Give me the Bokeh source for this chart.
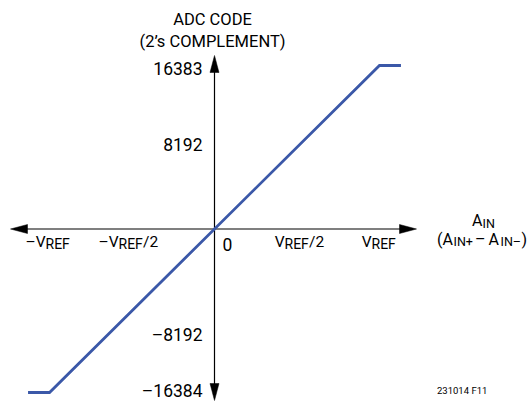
from bokeh.plotting import figure
from bokeh.models import Range1d
from bokeh.core.properties import value
from bokeh.embed import file_html
from bokeh.resources import INLINE

# ---- data ----
line_x = [-1.13, -1.0, 1.0, 1.13]          # input, in units of VREF
line_y = [-16384, -16384, 16383, 16383]    # ADC code
x_ticks = [-1.0, -0.5, 0.5, 1.0]
x_tick_prefix = ["–V", "–V", "V", "V"]
x_tick_sub = ["REF", "REF", "REF", "REF"]
x_tick_suffix = ["", "/2", "/2", ""]
y_ticks = [16383, 8192, -8192, -16384]
y_tick_labels = ["16383", "8192", "–8192", "–16384"]
zero_label = "0"
title_lines = ["ADC CODE", "(2’s COMPLEMENT)"]
note = "231014 F11"

# ---- layout (page pixels) ----
W, H = 530, 402
OFF = 0                    # page offset of the figure
X0, SX = 214.0, 165.0      # page x of 0, px per VREF
Y0, SY = 228.5, 163.5      # page y of 0, px per 16384 codes
K = 0.33                   # baseline correction, in em

def dx(px):
    return px / SX

def dy(px):
    return px / SY * 16384

def px_x(page_x):
    return (page_x - X0) / SX

def px_y(page_y):
    return (Y0 - page_y) / SY * 16384

def base_y(page_y, size):
    return px_y(page_y - K * size)

p = figure(width=W, height=H, output_backend="svg", toolbar_location=None,
           x_range=Range1d(px_x(OFF), px_x(OFF + W)),
           y_range=Range1d(px_y(OFF + H), px_y(OFF)),
           min_border=0, x_axis_location=None, y_axis_location=None,
           title=None)
p.grid.visible = False
p.outline_line_color = None
p.background_fill_color = "white"
p.border_fill_color = "white"

FONT = value("Roboto")

# axes
p.segment(x0=[px_x(20), 0], y0=[0, px_y(70)], x1=[px_x(405), 0], y1=[0, px_y(388)],
          line_color="black", line_width=1.2)
L, HW = 17, 4.5
heads_x = [
    [px_x(10), px_x(10 + L), px_x(10 + L)],
    [px_x(416), px_x(416 - L), px_x(416 - L)],
    [0, dx(-HW), dx(HW)],
    [0, dx(-HW), dx(HW)],
]
heads_y = [
    [0, dy(HW), dy(-HW)],
    [0, dy(HW), dy(-HW)],
    [px_y(55), px_y(55 + L), px_y(55 + L)],
    [px_y(400), px_y(400 - L), px_y(400 - L)],
]
p.patches(xs=heads_x, ys=heads_y, fill_color="black", line_color="black", line_width=0.5)

# transfer function
p.line(line_x, line_y, line_color="#3b58a8", line_width=2.8, line_join="miter")

# y tick labels
NUM = 17.5
y_label_base = [73.5, 149.3, 340.0, 396.5]
p.text(x=[px_x(202)] * len(y_ticks),
       y=[base_y(b, NUM) for b in y_label_base],
       text=y_tick_labels, text_font=FONT, text_font_size=value(f"{NUM}px"),
       text_align="right", text_baseline="alphabetic", text_color="black")

# zero label
p.text(x=[px_x(222)], y=[base_y(250, NUM)], text=[zero_label], text_font=FONT,
       text_font_size=value(f"{NUM}px"), text_align="left", text_baseline="alphabetic",
       text_color="black")

# x tick labels (V + subscript REF + suffix)
MAIN, SUB = 15.5, 14
x_anchor_dx = [-4, -13.5, -12.5, -8]
sub_w = 24.5
anchors = [t + dx(o) for t, o in zip(x_ticks, x_anchor_dx)]
p.text(x=anchors, y=[base_y(247, MAIN)] * 4, text=x_tick_prefix, text_font=FONT,
       text_font_size=value(f"{MAIN}px"), text_align="right", text_baseline="alphabetic",
       text_color="black")
p.text(x=anchors, y=[base_y(248.5, SUB)] * 4, text=x_tick_sub, text_font=FONT,
       text_font_size=value(f"{SUB}px"), text_align="left", text_baseline="alphabetic",
       text_color="black")
p.text(x=[a + dx(sub_w) for a in anchors], y=[base_y(247, MAIN)] * 4, text=x_tick_suffix,
       text_font=FONT, text_font_size=value(f"{MAIN}px"), text_align="left",
       text_baseline="alphabetic", text_color="black")

# title of y axis
TT = 16.5
p.text(x=[px_x(212)] * 2, y=[base_y(24.5, TT), base_y(46.5, TT)], text=title_lines,
       text_font=FONT, text_font_size=value(f"{TT}px"), text_align="center",
       text_baseline="alphabetic", text_color="black")

# A_IN label
AM, AS = 16, 12.5
main_pieces = ["A", "(", "A", "–", "A", ")"]
main_px = [(471.5, 225.5), (436.5, 244.3), (442, 244.3), (474.5, 244.3), (488, 244.3), (521, 244.3)]
p.text(x=[px_x(a) for a, b in main_px], y=[base_y(b, AM) for a, b in main_px], text=main_pieces,
       text_font=FONT, text_font_size=value(f"{AM}px"), text_align="left",
       text_baseline="alphabetic", text_color="black")
sub_pieces = ["IN", "IN+", "IN–"]
sub_px = [(482, 226.8), (453, 245.3), (500, 245.3)]
p.text(x=[px_x(a) for a, b in sub_px], y=[base_y(b, AS) for a, b in sub_px], text=sub_pieces,
       text_font=FONT, text_font_size=value(f"{AS}px"), text_align="left",
       text_baseline="alphabetic", text_color="black")

# figure note
NT = 9.5
p.text(x=[px_x(436.5)], y=[base_y(393, NT)], text=[note], text_font=FONT,
       text_font_size=value(f"{NT}px"), text_align="left", text_baseline="alphabetic",
       text_color="black")

open("out.html", "w").write(file_html(p, INLINE))
